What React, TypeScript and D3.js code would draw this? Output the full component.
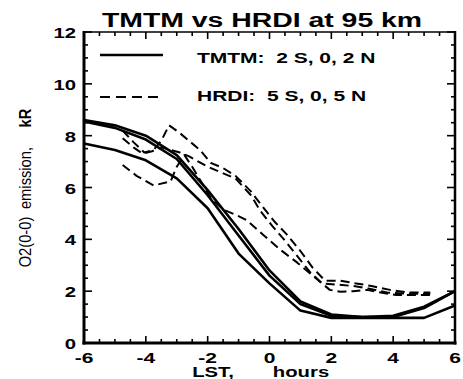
import React from 'react';
import * as d3 from 'd3';

// TMTM model (solid), hourly LST
const hours = [-6, -5, -4, -3, -2, -1, 0, 1, 2, 3, 4, 5, 6];
const tmtmA = [8.6, 8.4, 8.0, 7.25, 5.9, 4.4, 2.8, 1.6, 1.1, 1.0, 1.05, 1.4, 2.0];
const tmtmB = [8.55, 8.3, 7.85, 7.1, 5.7, 4.15, 2.6, 1.5, 1.05, 1.0, 1.0, 1.35, 2.0];
const tmtmC = [7.7, 7.45, 7.05, 6.35, 5.2, 3.45, 2.3, 1.25, 0.97, 0.97, 0.97, 0.97, 1.45];

// HRDI observations (dashed)
const hrdi1H = [-4.75, -4.3, -3.75, -3.2, -3.0, -2.75, -2.5, -2.2, -1.9, -1.5, -1.1, -0.75, -0.2, 0.35, 0.9, 1.5, 1.95, 2.3, 2.7, 3.15, 3.6, 4.1, 4.65, 5.2];
const hrdi1V = [6.87, 6.45, 6.08, 6.23, 6.8, 7.25, 6.8, 6.2, 5.6, 5.15, 4.95, 4.75, 4.17, 3.6, 3.1, 2.5, 2.05, 1.98, 2.0, 2.05, 1.95, 1.85, 1.85, 1.85];
const hrdi2H = [-4.75, -4.4, -4.1, -3.8, -3.5, -3.2, -2.9, -2.6, -2.3, -2.0, -1.6, -1.1, -0.6, -0.3, 0.1, 0.5, 0.9, 1.3, 1.7, 2.2, 2.7, 3.2, 3.8, 4.5, 5.2];
const hrdi2V = [7.9, 7.55, 7.3, 7.4, 7.55, 7.45, 7.35, 7.2, 7.0, 6.8, 6.6, 6.35, 5.7, 5.1, 4.5, 3.95, 3.35, 2.75, 2.3, 2.25, 2.2, 2.1, 1.95, 1.9, 1.9];
const hrdi3H = [-4.75, -4.4, -4.05, -3.75, -3.5, -3.25, -2.9, -2.6, -2.25, -1.9, -1.5, -1.1, -0.6, -0.25, 0.15, 0.55, 1.0, 1.4, 1.8, 2.3, 2.8, 3.3, 3.9, 4.5, 5.2];
const hrdi3V = [8.2, 7.75, 7.35, 7.45, 7.8, 8.4, 8.1, 7.8, 7.45, 6.95, 6.75, 6.45, 5.85, 5.3, 4.7, 4.2, 3.55, 2.9, 2.4, 2.4, 2.3, 2.2, 2.05, 1.95, 1.95];

const xTicks = [-6, -4, -2, 0, 2, 4, 6];
const yTicks = [0, 2, 4, 6, 8, 10, 12];
const title = 'TMTM vs HRDI at 95 km';
const legend1 = 'TMTM:  2 S, 0, 2 N';
const legend2 = 'HRDI:  5 S, 0, 5 N';

const FONT = '"Liberation Sans", Arial, Helvetica, sans-serif';

const L = 84, R = 455, T = 32, B = 343;

function SText({ x, y, sx = 1.45, size = 14, anchor = 'start', weight = 'bold', children, rotate = 0 }: any) {
  return (
    <text
      transform={`translate(${x},${y}) rotate(${rotate}) scale(${sx},1)`}
      fontFamily={FONT}
      fontSize={size}
      fontWeight={weight}
      textAnchor={anchor}
      fill="#000"
      style={{ whiteSpace: 'pre' }}
    >
      {children}
    </text>
  );
}

export default function App() {
  const x = d3.scaleLinear().domain([-6, 6]).range([L, R]);
  const y = d3.scaleLinear().domain([0, 12]).range([B, T]);
  const line = d3.line<[number, number]>().x(d => x(d[0])).y(d => y(d[1]));

  const solids = [tmtmA, tmtmB, tmtmC].map(v => line(hours.map((h, i) => [h, v[i]] as [number, number])) as string);
  const dashed = [
    [hrdi1H, hrdi1V],
    [hrdi2H, hrdi2V],
    [hrdi3H, hrdi3V],
  ].map(([hs, vs]) => line(hs.map((h, i) => [h, vs[i]] as [number, number])) as string);

  const xMinor = d3.range(-6, 6.001, 0.5);
  const yMinor = d3.range(0, 12.001, 0.5);

  return (
    <svg width={463} height={379} style={{ position: 'absolute', left: 0, top: 0, background: '#fff' }}>
      <rect width={463} height={379} fill="#fff" />
      {/* title */}
      <SText x={262} y={27} size={20} sx={1.42} anchor="middle">{title}</SText>

      {/* ticks */}
      <g stroke="#000" strokeWidth={1.6}>
        {xMinor.map(v => {
          const major = Math.abs(v % 2) < 1e-6;
          const len = major ? 7 : 4;
          return (
            <g key={'x' + v}>
              <line x1={x(v)} x2={x(v)} y1={B} y2={B - len} />
              <line x1={x(v)} x2={x(v)} y1={T} y2={T + len} />
            </g>
          );
        })}
        {yMinor.map(v => {
          const major = Math.abs(v % 2) < 1e-6;
          const len = major ? 8 : 4;
          return (
            <g key={'y' + v}>
              <line x1={L} x2={L + len} y1={y(v)} y2={y(v)} />
              <line x1={R} x2={R - len} y1={y(v)} y2={y(v)} />
            </g>
          );
        })}
      </g>

      {/* frame */}
      <line x1={L} x2={R} y1={T} y2={T} stroke="#000" strokeWidth={1.5} />
      <line x1={L} x2={L} y1={T - 1} y2={B + 1.5} stroke="#000" strokeWidth={3} />
      <line x1={L - 1.5} x2={R + 1.5} y1={B} y2={B} stroke="#000" strokeWidth={3} />
      <line x1={R} x2={R} y1={T - 1} y2={B + 1.5} stroke="#000" strokeWidth={2.5} />

      {/* tick labels */}
      {yTicks.map(v => (
        <SText key={'yl' + v} x={76} y={y(v) + 6} size={14} sx={1.45} anchor="end">{String(v)}</SText>
      ))}
      {xTicks.map(v => (
        <SText key={'xl' + v} x={x(v)} y={363} size={14} sx={1.5} anchor="middle">{v < 0 ? '-' + Math.abs(v) : String(v)}</SText>
      ))}

      {/* axis titles */}
      <SText x={213} y={377} size={14} sx={1.45} anchor="middle">LST,</SText>
      <SText x={301} y={377} size={14} sx={1.45} anchor="middle">hours</SText>
      <g>
        <SText x={31} y={242} size={16} sx={0.92} anchor="middle" weight="normal" rotate={-90}>O2(0-0)</SText>
        <SText x={31} y={178} size={16} sx={0.92} anchor="middle" weight="normal" rotate={-90}>emission,</SText>
        <SText x={31} y={118} size={16} sx={0.92} anchor="middle" weight="bold" rotate={-90}>kR</SText>
      </g>

      {/* data */}
      <g fill="none" stroke="#000" strokeLinejoin="round">
        {solids.map((d, i) => (
          <path key={'s' + i} d={d} strokeWidth={2.6} />
        ))}
        {dashed.map((d, i) => (
          <path key={'d' + i} d={d} strokeWidth={2} strokeDasharray="9,5" />
        ))}
      </g>

      {/* legend */}
      <line x1={100} x2={163} y1={55} y2={55} stroke="#000" strokeWidth={2.6} />
      <SText x={197} y={63} size={14} sx={1.5}>{legend1}</SText>
      <line x1={100} x2={163} y1={97} y2={97} stroke="#000" strokeWidth={2} strokeDasharray="10,6" />
      <SText x={197} y={101} size={14} sx={1.5}>{legend2}</SText>
    </svg>
  );
}
